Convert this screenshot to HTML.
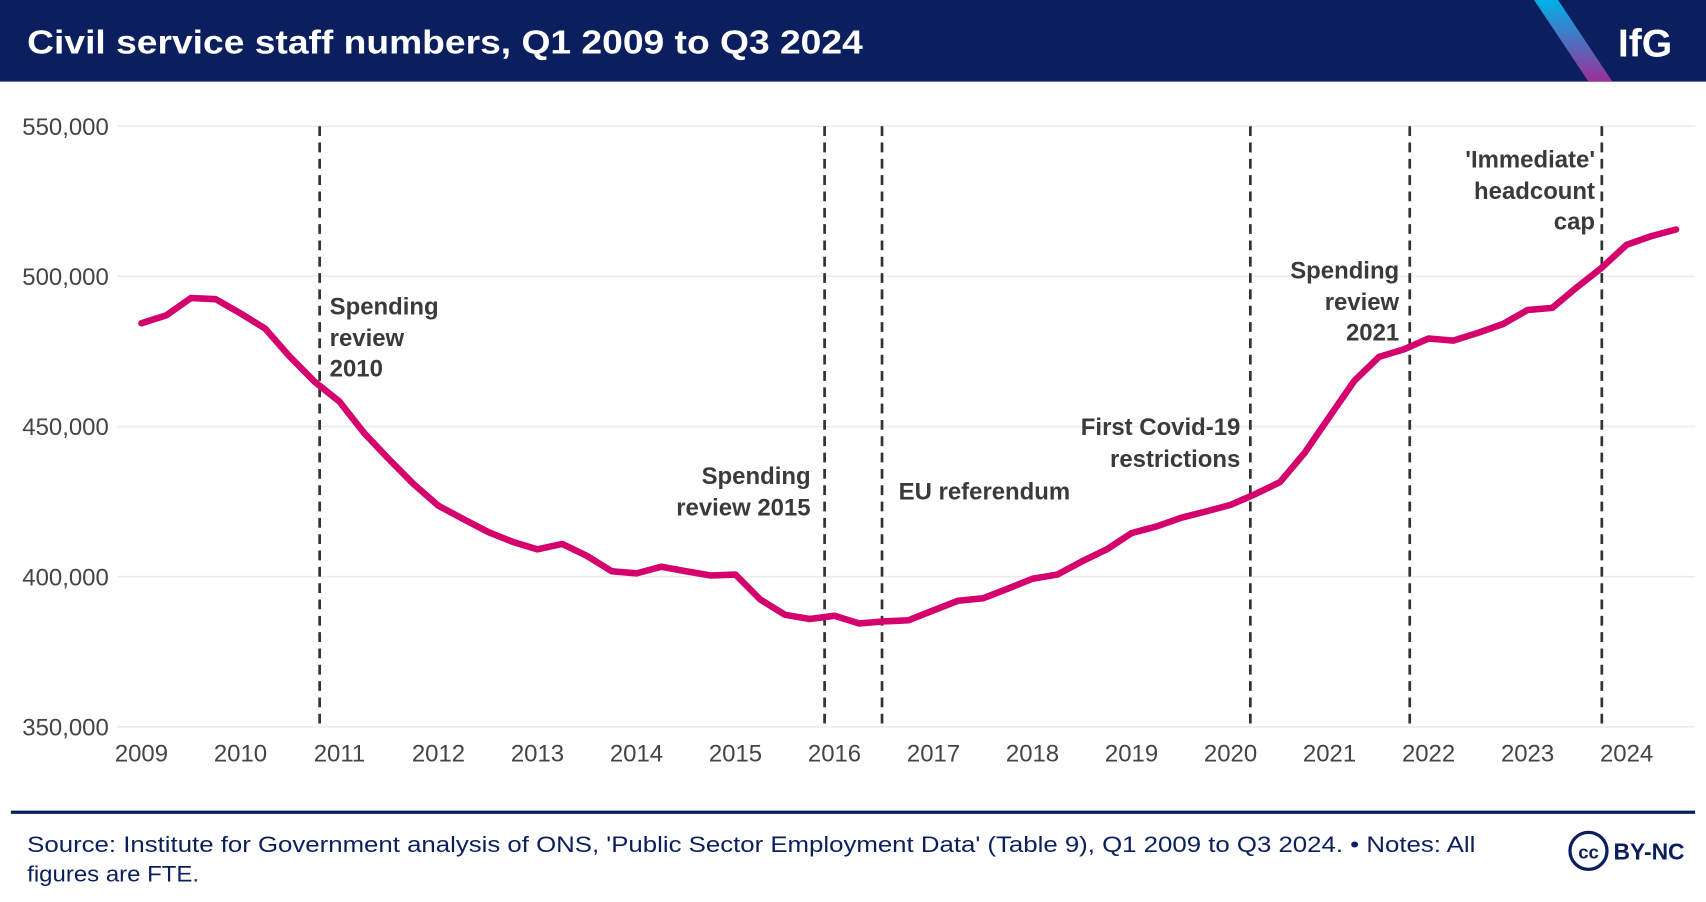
<!DOCTYPE html>
<html><head><meta charset="utf-8"><style>
html,body{margin:0;padding:0;background:#fff;}
svg{display:block;font-family:"Liberation Sans",sans-serif;}
</style></head><body>
<svg id="chart" width="1706" height="902" viewBox="0 0 1568 829" preserveAspectRatio="none" xmlns="http://www.w3.org/2000/svg">
<defs><linearGradient id="g" x1="0" y1="0" x2="0" y2="1"><stop offset="0" stop-color="#00b2e6"/><stop offset="1" stop-color="#9b2e9a"/></linearGradient></defs>
<rect x="0" y="0" width="1568" height="75" fill="#0b1f5e"/>
<text x="25" y="49" fill="#fff" font-size="31" font-weight="bold" textLength="768" lengthAdjust="spacingAndGlyphs">Civil service staff numbers, Q1 2009 to Q3 2024</text>
<polygon points="1410,0 1432,0 1482,75 1460,75" fill="url(#g)"/>
<text x="1487" y="52" fill="#fff" font-size="36" font-weight="bold">IfG</text>
<g id="grid"></g><g id="vlines"></g><g id="axes"></g>
<path id="line" fill="none" stroke="#d4006d" stroke-width="6" stroke-linejoin="round" stroke-linecap="round"/>
<g font-size="22" font-weight="bold" fill="#3a3a3a">
<text x="303" y="289">Spending</text>
<text x="303" y="318">review</text>
<text x="303" y="346">2010</text>
<text x="745" y="445" text-anchor="end">Spending</text>
<text x="745" y="474" text-anchor="end">review 2015</text>
<text x="826" y="459">EU referendum</text>
<text x="1140" y="400" text-anchor="end">First Covid-19</text>
<text x="1140" y="429" text-anchor="end">restrictions</text>
<text x="1286" y="256" text-anchor="end">Spending</text>
<text x="1286" y="285" text-anchor="end">review</text>
<text x="1286" y="313" text-anchor="end">2021</text>
<text x="1466" y="154" text-anchor="end">'Immediate'</text>
<text x="1466" y="183" text-anchor="end">headcount</text>
<text x="1466" y="211" text-anchor="end">cap</text>
</g>
<rect x="10" y="745" width="1548" height="3" fill="#0b1f5e"/>
<text x="25" y="783" font-size="20" fill="#0b1f5e" textLength="1331" lengthAdjust="spacingAndGlyphs">Source: Institute for Government analysis of ONS, 'Public Sector Employment Data' (Table 9), Q1 2009 to Q3 2024. • Notes: All</text>
<text x="25" y="810" font-size="20" fill="#0b1f5e" textLength="158" lengthAdjust="spacingAndGlyphs">figures are FTE.</text>
<circle cx="1460" cy="782" r="17" fill="none" stroke="#0b1f5e" stroke-width="3"/>
<text x="1460" y="789" font-size="17" font-weight="bold" fill="#0b1f5e" text-anchor="middle">cc</text>
<text x="1483" y="790" font-size="21" font-weight="bold" fill="#0b1f5e">BY-NC</text>
</svg>
<script>
const yTicks=[350000,400000,450000,500000,550000];
const xTicks=[2009,2010,2011,2012,2013,2014,2015,2016,2017,2018,2019,2020,2021,2022,2023,2024];
const startYear=2009;
const staff=[484.4,487,492.8,492.4,487.7,482.6,473.2,464.9,458.3,447.8,439.1,430.8,423.6,419.2,414.9,411.6,409.1,410.9,406.9,401.8,401.1,403.3,401.8,400.4,400.7,392.4,387.3,385.9,387,384.4,385.1,385.5,388.8,392,392.8,396,399.3,400.7,405.1,409.1,414.5,416.7,419.6,421.7,423.9,427.5,431.5,441.3,453.3,465.2,473.2,475.7,479.3,478.6,481.2,484.1,488.8,489.5,496.4,502.9,510.5,513.4,515.6];
const events=[2010.8,2015.9,2016.48,2020.2,2021.81,2023.75];
const NS="http://www.w3.org/2000/svg";
const X=t=>130+(t-2009)*91;
const Y=v=>668-(v-350000)/50000*138;
function mk(tag,attrs,parent){const e=document.createElementNS(NS,tag);for(const k in attrs)e.setAttribute(k,attrs[k]);document.getElementById(parent).appendChild(e);return e;}
yTicks.forEach(v=>{
 const l=mk('line',{x1:108,x2:1558,y1:Y(v),y2:Y(v),stroke:'#ececec','stroke-width':1.5},'grid');
 
 
 const t=mk('text',{x:100,y:Y(v)+8,'text-anchor':'end','font-size':22,fill:'#444'},'axes');
 
 
 t.textContent=v.toLocaleString('en-GB');
});
xTicks.forEach(y=>{
 const t=mk('text',{x:X(y),y:700,'text-anchor':'middle','font-size':22,fill:'#444'},'axes');
 
 
 t.textContent=y;
});
events.forEach(e=>{
 const l=mk('line',{x1:X(e),x2:X(e),y1:116,y2:668,stroke:'#333','stroke-width':2.5,'stroke-dasharray':'9,6'},'vlines');
 
 
});
document.getElementById('line').setAttribute('d',staff.map((v,i)=>(i?'L':'M')+X(startYear+i/4)+','+Y(v*1000)).join(''));
</script>
</body></html>
